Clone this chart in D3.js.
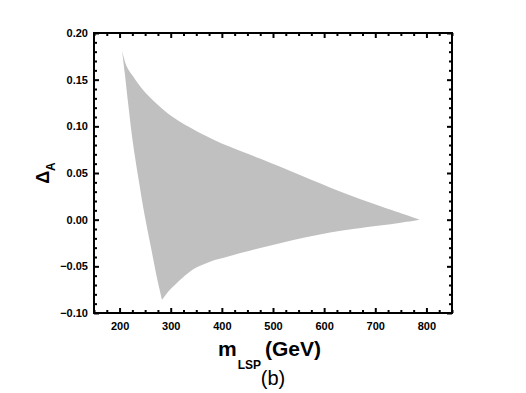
<!DOCTYPE html>
<html>
<head>
<meta charset="utf-8">
<script src="https://cdn.jsdelivr.net/npm/d3@7"></script>
<style>
  body { margin: 0; background: #fff; }
  svg { display: block; }
  text { font-family: "Liberation Sans", Arial, sans-serif; }
</style>
</head>
<body>
<div id="chart"></div>
<script>
// boundary of the allowed region (mLSP in GeV, Delta_A)
var leftMass  = [205, 210.2, 217.5, 225.3, 231.1, 237.4, 248.3, 261.1, 274, 283];
var leftDelta = [0.181, 0.157, 0.121, 0.0854, 0.064, 0.0425, 0.0068, -0.029, -0.0646, -0.086];

var lowerMass  = [283, 297, 311.7, 344.2, 376.8, 415.9, 465, 513.7, 562, 611.5, 660, 709, 750, 787];
var lowerDelta = [-0.086, -0.076, -0.068, -0.0532, -0.045, -0.0389, -0.0318, -0.0253, -0.0191, -0.0137, -0.0097, -0.0062, -0.0032, 0];

var upperMass  = [787, 709, 631, 552.8, 474.6, 416, 377, 312, 279, 246, 227, 214, 205];
var upperDelta = [0, 0.0146, 0.0302, 0.0479, 0.0655, 0.078, 0.0875, 0.107, 0.121, 0.139, 0.153, 0.164, 0.181];

var xMajor = [200, 300, 400, 500, 600, 700, 800];
var yMajor = [-0.10, -0.05, 0.00, 0.05, 0.10, 0.15, 0.20];

var W = 526, H = 393;
var margin = {left: 94, right: 74, top: 33, bottom: 80};
var w = W - margin.left - margin.right,
    h = H - margin.top - margin.bottom;

var svg = d3.select("#chart").append("svg")
  .attr("width", W)
  .attr("height", H);

var x = d3.scaleLinear().domain([150, 850]).range([0, w]);
var y = d3.scaleLinear().domain([-0.10, 0.20]).range([h, 0]);

var chart = svg.append("g")
  .attr("transform", "translate(" + margin.left + "," + margin.top + ")");

// shaded region, each edge smoothed on its own so the three corners stay sharp
function edge(ms, ds){ return ms.map(function(m, i){ return [m, ds[i]]; }); }

var line = d3.line()
  .x(function(d){ return x(d[0]); })
  .y(function(d){ return y(d[1]); })
  .curve(d3.curveCatmullRom.alpha(0.5));

var d = line(edge(leftMass, leftDelta))
  + line(edge(lowerMass, lowerDelta)).replace(/^M/, "L")
  + line(edge(upperMass, upperDelta)).replace(/^M/, "L") + "Z";

chart.append("path")
  .attr("d", d)
  .attr("fill", "#c0c0c0")
  .attr("stroke", "none");

// minor ticks
var xMinor = d3.range(150, 851, 25).filter(function(v){ return v % 100 != 0; });
var yMinor = d3.range(-10, 21, 1).filter(function(v){ return v % 5 != 0; }).map(function(v){ return v / 100; });

function styleAxis(g){
  g.select(".domain").remove();
  g.selectAll(".tick line").attr("stroke", "#000").attr("stroke-width", 2);
  g.selectAll("text")
    .attr("font-size", 11)
    .attr("font-weight", "bold")
    .attr("fill", "#000");
}

// bottom
chart.append("g").attr("transform", "translate(0," + h + ")")
  .call(d3.axisBottom(x).tickValues(xMajor).tickFormat(d3.format("d")).tickSize(-5).tickPadding(9))
  .call(styleAxis);
chart.append("g").attr("transform", "translate(0," + h + ")")
  .call(d3.axisBottom(x).tickValues(xMinor).tickFormat("").tickSize(-3))
  .call(styleAxis);
// top
chart.append("g")
  .call(d3.axisTop(x).tickValues(xMajor).tickFormat("").tickSize(-5))
  .call(styleAxis);
chart.append("g")
  .call(d3.axisTop(x).tickValues(xMinor).tickFormat("").tickSize(-3))
  .call(styleAxis);
// left
chart.append("g")
  .call(d3.axisLeft(y).tickValues(yMajor).tickFormat(d3.format(".2f")).tickSize(-5).tickPadding(6))
  .call(styleAxis);
chart.append("g")
  .call(d3.axisLeft(y).tickValues(yMinor).tickFormat("").tickSize(-3))
  .call(styleAxis);
// right
chart.append("g").attr("transform", "translate(" + w + ",0)")
  .call(d3.axisRight(y).tickValues(yMajor).tickFormat("").tickSize(-5))
  .call(styleAxis);
chart.append("g").attr("transform", "translate(" + w + ",0)")
  .call(d3.axisRight(y).tickValues(yMinor).tickFormat("").tickSize(-3))
  .call(styleAxis);

// frame
chart.append("rect")
  .attr("width", w)
  .attr("height", h)
  .attr("fill", "none")
  .attr("stroke", "#000")
  .attr("stroke-width", 2);

// x title
var xt = svg.append("text")
  .attr("x", 218)
  .attr("y", 356)
  .attr("font-weight", "bold")
  .attr("font-size", 21);
xt.append("tspan").text("m");
xt.append("tspan").attr("font-size", 12).attr("dy", 13).attr("dx", 1).text("LSP");
xt.append("tspan").attr("dy", -13).attr("x", 265).text("(GeV)");

svg.append("text")
  .attr("x", 273)
  .attr("y", 385)
  .attr("text-anchor", "middle")
  .attr("font-size", 20)
  .text("(b)");

// y title
var yt = svg.append("text")
  .attr("transform", "translate(49," + (margin.top + h / 2) + ") rotate(-90)")
  .attr("text-anchor", "middle")
  .attr("font-weight", "bold")
  .attr("font-size", 18);
yt.append("tspan").text("\u0394");
yt.append("tspan").attr("font-size", 12).attr("dy", 6).text("A");
</script>
</body>
</html>
